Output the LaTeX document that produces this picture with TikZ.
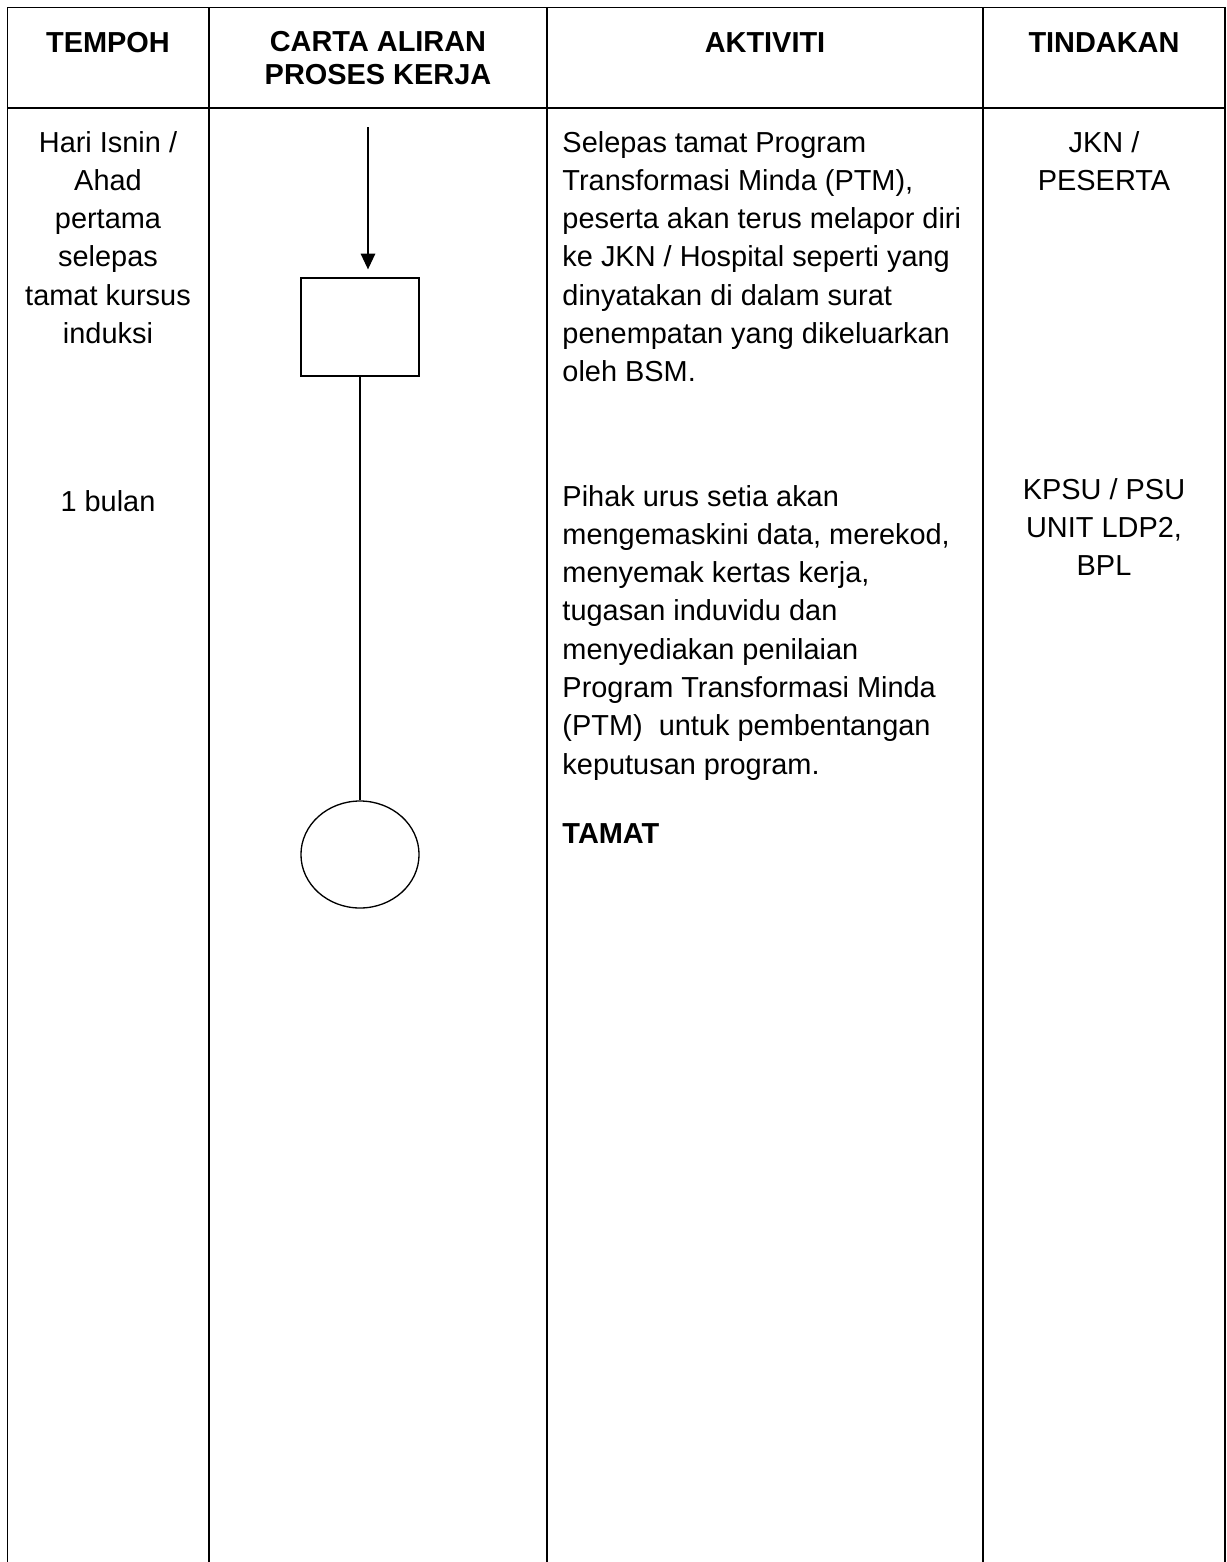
\documentclass[tikz,border=0pt]{standalone}
\usepackage{fontspec}
\setmainfont{Liberation Sans}
\usetikzlibrary{shapes.geometric,arrows.meta}

\tikzset{
  rule/.style={line width=0.7pt},
  txt/.style={anchor=base, inner sep=0pt, font=\fontsize{12}{15}\selectfont},
  txtl/.style={txt, anchor=base west},
  hdr/.style={txt, font=\fontsize{12}{15}\selectfont\bfseries},
  flowbox/.style={draw, line width=0.55pt, minimum width=49pt, minimum height=40.7pt, inner sep=0pt},
  flowend/.style={draw, ellipse, line width=0.55pt, minimum width=49pt, minimum height=44.4pt, inner sep=0pt}
}

\begin{document}
\begin{tikzpicture}[x=0.415pt, y=-0.415pt]
\useasboundingbox (0,0) rectangle (1227,1562);
% table rules
\draw[rule] (7.5,1562) -- (7.5,7.5) -- (1225,7.5) -- (1225,1562);
\draw[rule] (7.5,108) -- (1225,108);
\foreach \x in {209,547,983} {
  \draw[rule] (\x,7.5) -- (\x,1562);
}
% header
\node[hdr] (tempoh) at (108,52) {TEMPOH};
\node[hdr] (carta1) at (378,51) {CARTA ALIRAN};
\node[hdr] (carta2) at (378,84) {PROSES KERJA};
\node[hdr] (aktiviti) at (765,52) {AKTIVITI};
\node[hdr] (tindakan) at (1104,52) {TINDAKAN};
% tempoh
\foreach \t [count=\i from 0] in {Hari Isnin /, Ahad, pertama, selepas, tamat kursus, induksi} {
  \node[txt] (masa\i) at (108,152+38.3*\i) {\t};
}
\node[txt] (bulan) at (108,511) {1 bulan};
% aktiviti
\foreach \t [count=\i from 0] in {Selepas tamat Program, {Transformasi Minda (PTM),}, peserta akan terus melapor diri, ke JKN / Hospital seperti yang, dinyatakan di dalam surat, penempatan yang dikeluarkan, oleh BSM.} {
  \node[txtl] (lapor\i) at (562,152+38.3*\i) {\t};
}
\foreach \t [count=\i from 0] in {Pihak urus setia akan, {mengemaskini data, merekod,}, {menyemak kertas kerja,}, tugasan induvidu dan, menyediakan penilaian, Program Transformasi Minda, {(PTM)\ \ untuk pembentangan}, keputusan program.} {
  \node[txtl] (nilai\i) at (562,506+38.3*\i) {\t};
}
\node[hdr, anchor=base west] (tamattxt) at (562,843) {TAMAT};
% tindakan
\node[txt] (jkn1) at (1104,152) {JKN /};
\node[txt] (jkn2) at (1104,190.3) {PESERTA};
\node[txt] (kpsu1) at (1104,499) {KPSU / PSU};
\node[txt] (kpsu2) at (1104,537.3) {UNIT LDP2,};
\node[txt] (kpsu3) at (1104,575.6) {BPL};
% carta aliran
\coordinate (mula) at (368,127);
\node[flowbox] (proses) at (360,327) {};
\node[flowend] (tamat) at (360,854.5) {};
\draw[line width=0.55pt, -{Triangle[length=6.5pt,width=6pt]}, shorten >=3.3pt] (mula) -- (mula |- proses.north);
\draw[line width=0.55pt] (proses) -- (tamat);
\end{tikzpicture}
\end{document}
